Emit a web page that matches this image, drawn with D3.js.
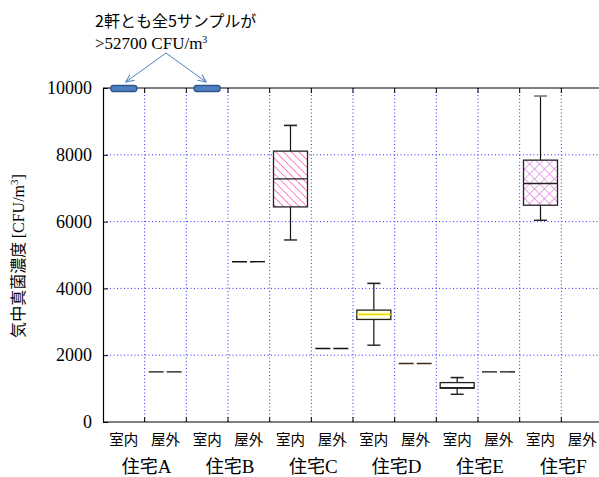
<!DOCTYPE html>
<html>
<head>
<meta charset="utf-8">
<script src="https://cdn.jsdelivr.net/npm/d3@7"></script>
<style>
  body { margin: 0; background: #fff; }
</style>
</head>
<body>
<script>
// houses and sampling places
var houses = ["住宅A", "住宅B", "住宅C", "住宅D", "住宅E", "住宅F"];
var places = ["室内", "屋外"];
var yTicks = [0, 2000, 4000, 6000, 8000, 10000];

// indoor box stats [min, q1, median, q3, max]
var boxHouses = ["住宅C", "住宅D", "住宅E", "住宅F"];
var boxStats = [
  [5450, 6440, 7280, 8110, 8880],
  [2300, 3070, 3220, 3350, 4150],
  [830, 1010, 1030, 1180, 1330],
  [6040, 6490, 7140, 7840, 9760]
];
// outdoor single values
var outHouses = ["住宅A", "住宅B", "住宅C", "住宅D", "住宅E"];
var outValues = [1500, 4800, 2200, 1750, 1500];
// indoor over the range (all 5 samples >52700)
var overHouses = ["住宅A", "住宅B"];

var JP = '"Noto Sans CJK JP", sans-serif';
var SERIF = '"Liberation Serif", "Times New Roman", serif';

var width = 599, height = 477;
var margin = {top: 88, left: 103, bottom: 55};
var plotW = 500;

var svg = d3.select("body").append("svg")
  .attr("width", width)
  .attr("height", height);

var defs = svg.append("defs");
var p1 = defs.append("pattern").attr("id", "hatchC")
  .attr("patternUnits", "userSpaceOnUse").attr("width", 5.5).attr("height", 5.5)
  .attr("patternTransform", "rotate(45)");
p1.append("rect").attr("width", 5.5).attr("height", 5.5).attr("fill", "#fff");
p1.append("line").attr("x1", 0).attr("y1", 0).attr("x2", 5.5).attr("y2", 0)
  .attr("stroke", "#ff3d9e").attr("stroke-width", 1.7).attr("stroke-dasharray", "1.3,0.6");
var p2 = defs.append("pattern").attr("id", "hatchF")
  .attr("patternUnits", "userSpaceOnUse").attr("width", 7).attr("height", 7)
  .attr("patternTransform", "rotate(45)");
p2.append("rect").attr("width", 7).attr("height", 7).attr("fill", "#fff");
p2.append("line").attr("x1", 0).attr("y1", 0).attr("x2", 7).attr("y2", 0)
  .attr("stroke", "#dd80dd").attr("stroke-width", 1.4);
p2.append("line").attr("x1", 0).attr("y1", 0).attr("x2", 0).attr("y2", 7)
  .attr("stroke", "#dd80dd").attr("stroke-width", 1.4);
var fills = {"住宅C": "url(#hatchC)", "住宅D": "#ffffe6", "住宅E": "#fff", "住宅F": "url(#hatchF)"};
var medColor = {"住宅C": "#222", "住宅D": "#f0e000", "住宅E": "#222", "住宅F": "#222"};

var slots = [];
houses.forEach(function(h) { places.forEach(function(p) { slots.push(h + "|" + p); }); });

var x = d3.scaleBand().domain(slots).range([margin.left, margin.left + plotW]);
var y = d3.scaleLinear().domain([0, 10000]).range([height - margin.bottom, margin.top]);
var bw = x.bandwidth();
var y0 = y(0), yTop = y(10000);

// grid
var grid = svg.append("g");
grid.selectAll(".hg").data(yTicks.filter(function(d) { return d > 0 && d < 10000; }))
  .enter().append("line")
  .attr("x1", margin.left).attr("x2", width)
  .attr("y1", function(d) { return y(d); }).attr("y2", function(d) { return y(d); })
  .attr("stroke", "#2b2bff").attr("stroke-width", 1).attr("stroke-dasharray", "1,2.5");
grid.selectAll(".vg").data(slots.slice(1))
  .enter().append("line")
  .attr("x1", function(d) { return x(d); }).attr("x2", function(d) { return x(d); })
  .attr("y1", yTop).attr("y2", y0)
  .attr("stroke", "#2b2bff").attr("stroke-width", 1).attr("stroke-dasharray", "1,2.5");

// frame
svg.append("line").attr("x1", margin.left).attr("x2", width).attr("y1", yTop).attr("y2", yTop)
  .attr("stroke", "#000").attr("stroke-width", 1.2);
svg.append("line").attr("x1", margin.left).attr("x2", width).attr("y1", y0).attr("y2", y0)
  .attr("stroke", "#000").attr("stroke-width", 1.2);

// top/bottom ticks
var tk = svg.append("g");
slots.slice(1).forEach(function(s) {
  tk.append("line").attr("x1", x(s)).attr("x2", x(s)).attr("y1", yTop).attr("y2", yTop + 5).attr("stroke", "#000");
  tk.append("line").attr("x1", x(s)).attr("x2", x(s)).attr("y1", y0).attr("y2", y0 - 5).attr("stroke", "#000");
});

// y axis
var yAxis = svg.append("g")
  .attr("transform", "translate(" + margin.left + ",0)")
  .call(d3.axisLeft(y).tickValues(yTicks).tickFormat(d3.format("d"))
    .tickSizeInner(-5).tickSizeOuter(0).tickPadding(11));
yAxis.attr("font-family", null).attr("font-size", null);
yAxis.select(".domain").attr("stroke-width", 1.2);
yAxis.selectAll("text").style("font-family", SERIF).style("font-size", "18px").attr("fill", "#000");

// outdoor single values (dashed lines)
svg.selectAll(".out").data(outHouses).enter().append("line")
  .attr("x1", function(d) { return x(d + "|屋外") + 4; })
  .attr("x2", function(d) { return x(d + "|屋外") + bw - 4; })
  .attr("y1", function(d, i) { return y(outValues[i]); })
  .attr("y2", function(d, i) { return y(outValues[i]); })
  .attr("stroke", function(d) { return d === "住宅D" ? "#3a2a20" : "#111"; })
  .attr("stroke-width", 1.4).attr("stroke-dasharray", "15,3");

// box plots
var boxW = 34, capW = 13;
var bx = svg.selectAll(".box").data(boxHouses).enter().append("g");
bx.each(function(h, i) {
  var g = d3.select(this), s = boxStats[i];
  var cx = x(h + "|室内") + bw / 2;
  g.append("line").attr("x1", cx).attr("x2", cx).attr("y1", y(s[0])).attr("y2", y(s[1])).attr("stroke", "#111").attr("stroke-width", 1.2);
  g.append("line").attr("x1", cx).attr("x2", cx).attr("y1", y(s[3])).attr("y2", y(s[4])).attr("stroke", "#111").attr("stroke-width", 1.2);
  g.append("line").attr("x1", cx - capW / 2).attr("x2", cx + capW / 2).attr("y1", y(s[0])).attr("y2", y(s[0])).attr("stroke", "#222").attr("stroke-width", 1.4);
  g.append("line").attr("x1", cx - capW / 2).attr("x2", cx + capW / 2).attr("y1", y(s[4])).attr("y2", y(s[4]))
    .attr("stroke", h === "住宅F" ? "#777" : "#222").attr("stroke-width", 1.6);
  g.append("rect").attr("x", cx - boxW / 2).attr("width", boxW)
    .attr("y", y(s[3])).attr("height", y(s[1]) - y(s[3]))
    .attr("fill", fills[h]).attr("stroke", "#222").attr("stroke-width", 1.3);
  g.append("line").attr("x1", cx - boxW / 2).attr("x2", cx + boxW / 2).attr("y1", y(s[2])).attr("y2", y(s[2]))
    .attr("stroke", medColor[h]).attr("stroke-width", h === "住宅D" ? 1.8 : 1.3);
});

// over-range markers
svg.selectAll(".over").data(overHouses).enter().append("rect")
  .attr("x", function(d) { return x(d + "|室内") + bw / 2 - 13; })
  .attr("y", yTop - 2.5).attr("width", 26).attr("height", 6).attr("rx", 2.5)
  .attr("fill", "#4f7fbf").attr("stroke", "#2f568c").attr("stroke-width", 1.3);

// annotation
defs.append("marker").attr("id", "arr").attr("viewBox", "0 0 10 10").attr("refX", 9).attr("refY", 5)
  .attr("markerWidth", 9).attr("markerHeight", 9).attr("orient", "auto")
  .append("path").attr("d", "M0,1 L9,5 L0,9").attr("fill", "none").attr("stroke", "#4f81bd").attr("stroke-width", 1.2);
var ax0 = 166, ay0 = 53;
overHouses.forEach(function(h) {
  svg.append("line").attr("x1", ax0).attr("y1", ay0)
    .attr("x2", x(h + "|室内") + bw / 2 + (h === "住宅A" ? 2 : -1)).attr("y2", yTop - 6)
    .attr("stroke", "#4f81bd").attr("stroke-width", 1).attr("marker-end", "url(#arr)");
});
svg.append("text").attr("x", 95).attr("y", 27)
  .style("font-family", JP).style("font-size", "16px").text("2軒とも全5サンプルが");
var t2 = svg.append("text").attr("x", 95).attr("y", 49)
  .style("font-family", SERIF).style("font-size", "17px");
t2.append("tspan").text(">52700 CFU/m");
t2.append("tspan").attr("dy", -6).style("font-size", "10px").text("3");

// x labels
svg.selectAll(".pl").data(slots).enter().append("text")
  .attr("text-anchor", "middle")
  .attr("x", function(d) { return x(d) + bw / 2; }).attr("y", 445)
  .style("font-family", JP).style("font-size", "14.5px")
  .text(function(d) { return d.split("|")[1]; });
var hl = svg.selectAll(".hl").data(houses).enter().append("text")
  .attr("text-anchor", "middle")
  .attr("x", function(d) { return x(d + "|室内") + bw + 2; }).attr("y", 473)
  .style("font-size", "18px");
hl.append("tspan").style("font-family", JP).text(function(d) { return d.slice(0, 2); });
hl.append("tspan").style("font-family", SERIF).style("font-size", "19px").text(function(d) { return d.slice(2); });

// y label
var yl = svg.append("text").attr("transform", "translate(24,256) rotate(-90)")
  .attr("text-anchor", "middle").style("font-size", "16px");
yl.append("tspan").style("font-family", JP).text("気中真菌濃度 ");
yl.append("tspan").style("font-family", SERIF).text("[CFU/m");
yl.append("tspan").style("font-family", SERIF).attr("dy", -6).style("font-size", "11px").text("3");
yl.append("tspan").style("font-family", SERIF).attr("dy", 6).text("]");
</script>
</body>
</html>
